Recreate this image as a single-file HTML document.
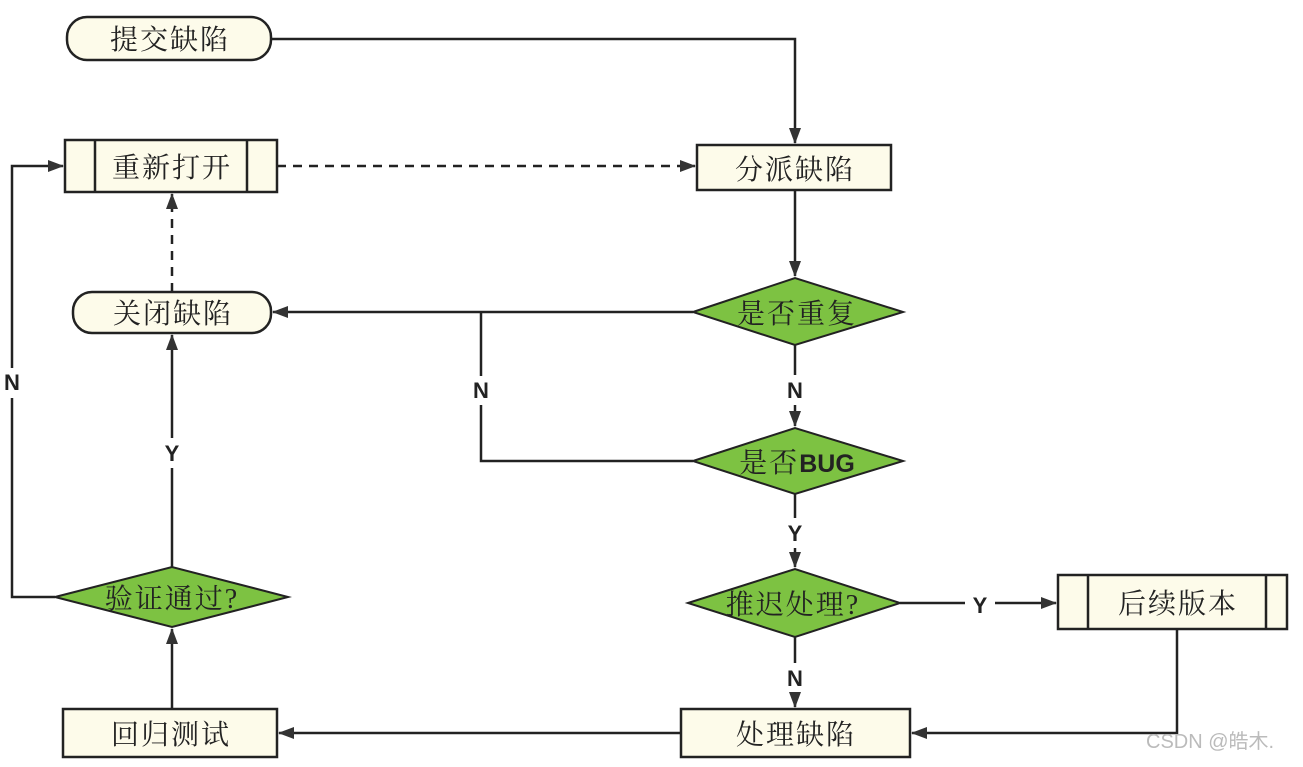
<!DOCTYPE html>
<html><head><meta charset="utf-8"><style>
body{margin:0;background:#fff;}
svg text{font-family:"Liberation Serif","Noto Serif CJK SC",serif;font-size:28px;fill:#222;letter-spacing:2px;}
.b{font-family:"Liberation Sans","Noto Sans CJK SC",sans-serif;font-weight:bold;font-size:22px;letter-spacing:0;}
</style></head><body>
<svg width="1303" height="762" xmlns="http://www.w3.org/2000/svg">
<defs><marker id="a" markerWidth="16" markerHeight="12" refX="15" refY="6" orient="auto" markerUnits="userSpaceOnUse"><path d="M0,0 L16,6 L0,12 z" fill="#333"/></marker></defs>
<g stroke="#222" stroke-width="2.5" fill="none">
<path d="M271,39 H795 V143" marker-end="url(#a)"/>
<path d="M277,166 H695" stroke-dasharray="9,7" marker-end="url(#a)"/>
<path d="M795,190 V276" marker-end="url(#a)"/>
<path d="M693,312 H273" marker-end="url(#a)"/>
<path d="M481,312 V376 M481,405 V461 H693"/>
<path d="M795,345 V375"/><path d="M795,405 V426" marker-end="url(#a)"/>
<path d="M795,494 V518"/><path d="M795,548 V567" marker-end="url(#a)"/>
<path d="M795,637 V663"/><path d="M795,693 V707" marker-end="url(#a)"/>
<path d="M900,603 H965"/><path d="M995,603 H1056" marker-end="url(#a)"/>
<path d="M1177,629 V733 H912" marker-end="url(#a)"/>
<path d="M681,733 H279" marker-end="url(#a)"/>
<path d="M172,709 V629" marker-end="url(#a)"/>
<path d="M172,567 V468"/><path d="M172,438 V335" marker-end="url(#a)"/>
<path d="M172,292 V194" stroke-dasharray="9,7" marker-end="url(#a)"/>
<path d="M55,597 H12 V398"/><path d="M12,368 V166 H63" marker-end="url(#a)"/>
</g>
<g stroke="#222" stroke-width="2.5" fill="#fdfbea">
<rect x="67" y="17" width="204" height="43" rx="20"/>
<rect x="65" y="140" width="212" height="52"/><path d="M95,140 V192 M247,140 V192" fill="none"/>
<rect x="73" y="292" width="198" height="41" rx="19"/>
<rect x="697" y="145" width="194" height="45"/>
<rect x="1058" y="575" width="229" height="54"/><path d="M1088,575 V629 M1266,575 V629" fill="none"/>
<rect x="681" y="709" width="229" height="48"/>
<rect x="63" y="709" width="214" height="48"/>
</g>
<g stroke="#222" stroke-width="2" fill="#7dc242">
<path d="M693,312 L795,278 L903,312 L795,345 z"/>
<path d="M693,461 L795,428 L903,461 L795,494 z"/>
<path d="M688,603 L795,569 L900,603 L795,637 z"/>
<path d="M55,597 L172,567 L288,597 L172,627 z"/>
</g>
<g text-anchor="middle">
<text x="170" y="49">提交缺陷</text>
<text x="172" y="177">重新打开</text>
<text x="173" y="323">关闭缺陷</text>
<text x="795" y="179">分派缺陷</text>
<text x="797" y="323">是否重复</text>
<text x="797" y="472">是否<tspan class="b" style="font-size:25px">BUG</tspan></text>
<text x="793" y="614">推迟处理?</text>
<text x="1178" y="613">后续版本</text>
<text x="796" y="744">处理缺陷</text>
<text x="171" y="744">回归测试</text>
<text x="172" y="608">验证通过?</text>
<text class="b" x="12" y="390">N</text>
<text class="b" x="172" y="461">Y</text>
<text class="b" x="481" y="398">N</text>
<text class="b" x="795" y="398">N</text>
<text class="b" x="795" y="541">Y</text>
<text class="b" x="980" y="613">Y</text>
<text class="b" x="795" y="686">N</text>
</g>
<text x="1146" y="748" style="font-family:'Liberation Sans','Noto Sans CJK SC',sans-serif;font-size:20px;fill:#bbb;letter-spacing:0">CSDN @皓木.</text>
</svg>
</body></html>
